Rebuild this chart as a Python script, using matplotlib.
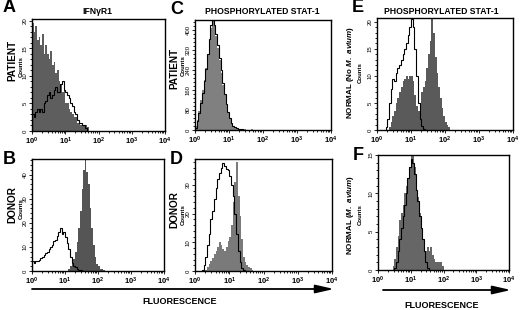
import numpy as np
import matplotlib
matplotlib.use("Agg")
import matplotlib.pyplot as plt
from matplotlib.ticker import LogLocator, MultipleLocator, FixedLocator, NullFormatter

plt.rcParams['font.family'] = ['Liberation Sans', 'DejaVu Sans']
plt.rcParams['mathtext.fontset'] = 'custom'
plt.rcParams['mathtext.rm'] = 'Liberation Sans:bold'
plt.rcParams['mathtext.it'] = 'Liberation Sans:italic:bold'

W, H = 520, 310
BIN = 0.05  # channel width in log10 units

# --- A: IFNgR1, patient ---
a_fill_start = 0.0
a_fill = [19.5, 18, 19, 16.5, 17, 15.5, 17.5, 14, 15.5, 14, 13, 14.5, 12, 12.5,
          10.5, 11, 9, 8.5, 7, 7.5, 5, 5, 4, 3.5, 3, 2.5, 2.5, 1.5, 2, 1, 1, 1, 1, 0.8]
a_open_start = 0.0
a_open = [3, 2.5, 3.5, 4, 3.5, 4, 3.5, 5, 5.5, 6.5, 7, 6, 6.5, 7.5, 8, 7, 7, 8.5,
          9, 7.5, 7, 6.5, 6, 5, 4.5, 3.5, 3, 2, 1.5, 1.5, 1, 1, 0.5]

# --- B: IFNgR1, donor ---
b_fill_start = 1.10
b_fill = [1, 2, 3, 5, 8, 12, 18, 25, 34, 42, 46, 41, 36, 26, 18, 11, 6, 3, 2, 1, 1, 0.5]
b_open_start = 0.0
b_open = [4, 3.5, 4, 4, 4.5, 5.5, 6, 6.5, 7.5, 8, 9, 10, 11, 12.5, 13, 14.5, 16, 18,
          15.5, 16, 14, 11.5, 9, 6, 3.5, 2, 1.5, 1, 0.5, 0.3]

# --- C: phosphorylated STAT-1, patient ---
c_fill_start = 0.0
c_fill = [15, 40, 75, 120, 160, 200, 250, 300, 360, 410, 435, 415, 375, 330, 280, 230,
          180, 140, 100, 70, 45, 28, 18, 12, 8, 6, 5, 4, 3, 3, 2, 2, 2, 3, 2, 2, 2, 1,
          1, 1, 1, 1]
c_open_start = 0.0
c_open = [10, 35, 70, 110, 150, 195, 245, 305, 365, 420, 440, 420, 385, 340, 290, 240,
          190, 145, 105, 72, 48, 30, 18, 12, 8, 5, 4, 3, 2, 2, 1]

# --- D: phosphorylated STAT-1, donor ---
d_fill_start = 0.30
d_fill = [0.5, 1.5, 2.5, 3.5, 4.5, 6, 7, 8.5, 10, 9, 7.5, 7, 8.5, 10.5, 12, 16, 24, 31,
          38, 26, 19, 11, 5, 3, 2, 1.5, 1, 0.5]
d_open_start = 0.20
d_open = [0.5, 2, 5, 9, 13, 18, 21, 25, 29, 32, 34, 36, 37.5, 36.5, 35.5, 35, 33, 30,
          26, 20, 13, 7, 3, 1, 0.5]

# --- E: normal, no M. avium ---
e_fill_start = 0.35
e_fill = [0.5, 1.5, 2.5, 3.5, 5, 6, 7, 8, 9, 9.5, 10, 9.5, 10, 10, 9, 6.5, 4.5, 3.5, 5,
          7, 8, 9, 11.5, 14, 16.5, 20.5, 18, 13.5, 10.5, 8, 6, 4, 2.5, 1.5, 1, 0.5]
e_open_start = 0.25
e_open = [0.5, 2, 5, 7.5, 9.5, 9, 10.5, 11.5, 12, 13, 14, 15, 16, 17.5, 19, 20.5, 19,
          15, 10, 5, 2, 0.8, 0.2]

# --- F: normal, M. avium ---
f_fill_start = 0.45
f_fill = [0.5, 1.5, 3, 4.5, 6.5, 7.5, 8.5, 10, 11, 12, 13.5, 15, 15, 13.5, 12, 9.5, 7.5,
          5.5, 4, 3, 2.5, 3, 2.5, 3, 2, 1.5, 1, 1, 1, 1, 0.5]
f_open_start = 0.50
f_open = [0.3, 1, 2.5, 4, 5.5, 7, 8.5, 10, 12, 13.5, 14.5, 14, 12.5, 10.5, 9, 7, 5.5,
          4, 2.5, 1, 0.3]


def edges(start, counts):
    return 10 ** (start + BIN * np.arange(len(counts) + 1))


def fx(x):
    return x / W


def fy(y):
    return 1 - y / H


panels = [
    # letter, rect px (l, t, r, b), ylim, yticks, minor, fill colour, fill, open
    ('A', (32, 19, 165, 131), 20.3, [0, 5, 10, 15, 20], 1, '#5e5e5e',
     (a_fill_start, a_fill), (a_open_start, a_open)),
    ('B', (32, 159, 164, 271), 46.5, [0, 10, 20, 30, 40], 2, '#555555',
     (b_fill_start, b_fill), (b_open_start, b_open)),
    ('C', (195, 20, 331, 130), 440, [0, 80, 160, 240, 320, 400], 16, '#808080',
     (c_fill_start, c_fill), (c_open_start, c_open)),
    ('D', (195, 159, 332, 271), 39, [0, 10, 20, 30], 2, '#7a7a7a',
     (d_fill_start, d_fill), (d_open_start, d_open)),
    ('E', (377, 18, 513, 130), 20.7, [0, 5, 10, 15, 20], 1, '#5a5a5a',
     (e_fill_start, e_fill), (e_open_start, e_open)),
    ('F', (378, 155, 509, 270), 15, [0, 5, 10, 15], 1, '#666666',
     (f_fill_start, f_fill), (f_open_start, f_open)),
]

fig = plt.figure(figsize=(5.2, 3.1), dpi=100)

for letter, (l, t, r, b), ytop, yt, ymin, col, fill, opn in panels:
    ax = fig.add_axes([fx(l), fy(b), fx(r) - fx(l), (b - t) / H])
    ax.stairs(fill[1], edges(*fill), fill=True, color=col, lw=0)
    ax.stairs(opn[1], edges(*opn), color='black', lw=0.8)
    ax.set_xscale('log')
    ax.set_xlim(1, 1e4)
    ax.set_ylim(0, ytop)
    ax.xaxis.set_major_locator(LogLocator(base=10, numticks=10))
    ax.xaxis.set_minor_locator(LogLocator(base=10, subs=np.arange(2, 10), numticks=20))
    ax.xaxis.set_minor_formatter(NullFormatter())
    ax.yaxis.set_major_locator(FixedLocator(yt))
    ax.yaxis.set_minor_locator(MultipleLocator(ymin))
    ax.tick_params(which='both', direction='out', width=0.6, pad=1)
    ax.tick_params(which='major', length=2.2)
    ax.tick_params(which='minor', length=1.2)
    ax.tick_params(axis='x', labelsize=5.5)
    ax.tick_params(axis='y', labelsize=4.3, labelrotation=90)
    plt.setp(ax.get_yticklabels(), va='center')
    plt.setp(ax.get_xticklabels(), fontweight='bold')
    for s in ax.spines.values():
        s.set_linewidth(1.0)
    fig.text(fx(l - 29 if letter in 'AB' else l - 25), fy(t - 11 if letter in 'ACE' else t + 1),
             letter, fontsize=13, fontweight='bold', ha='left', va='center')

# column titles
fig.text(fx(97), fy(11), 'IFN\u03b3R1', fontsize=6.2, fontweight='bold', ha='center', va='center')
fig.text(fx(262), fy(12), 'PHOSPHORYLATED STAT-1', fontsize=6.2, fontweight='bold',
         ha='center', va='center')
fig.text(fx(441), fy(11), 'PHOSPHORYLATED STAT-1', fontsize=6.2, fontweight='bold',
         ha='center', va='center')

# row labels (bold name + small "Counts")
row_labels = [
    ('PATIENT', 12, 60, 21, 67),
    ('DONOR', 12, 205, 21, 209),
    ('PATIENT', 174, 68, 183, 66),
    ('DONOR', 174, 210, 183, 215),
    ('NORMAL (No $\\it{M.\\ avium}$)', 351, 73, 360, 73),
    ('NORMAL ($\\it{M.\\ avium}$)', 351, 215, 360, 215),
]
for name, x1, y1, x2, y2 in row_labels:
    size = 7.2 if 'NORMAL' not in name else 5.8
    fig.text(fx(x1), fy(y1), name, fontsize=size, fontweight='bold', rotation=90,
             ha='center', va='center')
    fig.text(fx(x2), fy(y2), 'Counts', fontsize=4.3, fontweight='bold', rotation=90,
             ha='center', va='center')

# fluorescence arrows
for x0, x1, ya, xt, yt in [(32, 334, 289, 180, 301), (383, 511, 290, 442, 305)]:
    fig.add_artist(matplotlib.patches.FancyArrowPatch(
        (fx(x0), fy(ya)), (fx(x1), fy(ya)), transform=fig.transFigure,
        arrowstyle='-|>,head_length=1.1,head_width=0.25', mutation_scale=10,
        lw=1.3, color='black', shrinkA=0, shrinkB=0))
    fig.text(fx(xt), fy(yt), 'FLUORESCENCE', fontsize=6.5, fontweight='bold',
             ha='center', va='center')

fig.savefig('out.png', dpi=100)
